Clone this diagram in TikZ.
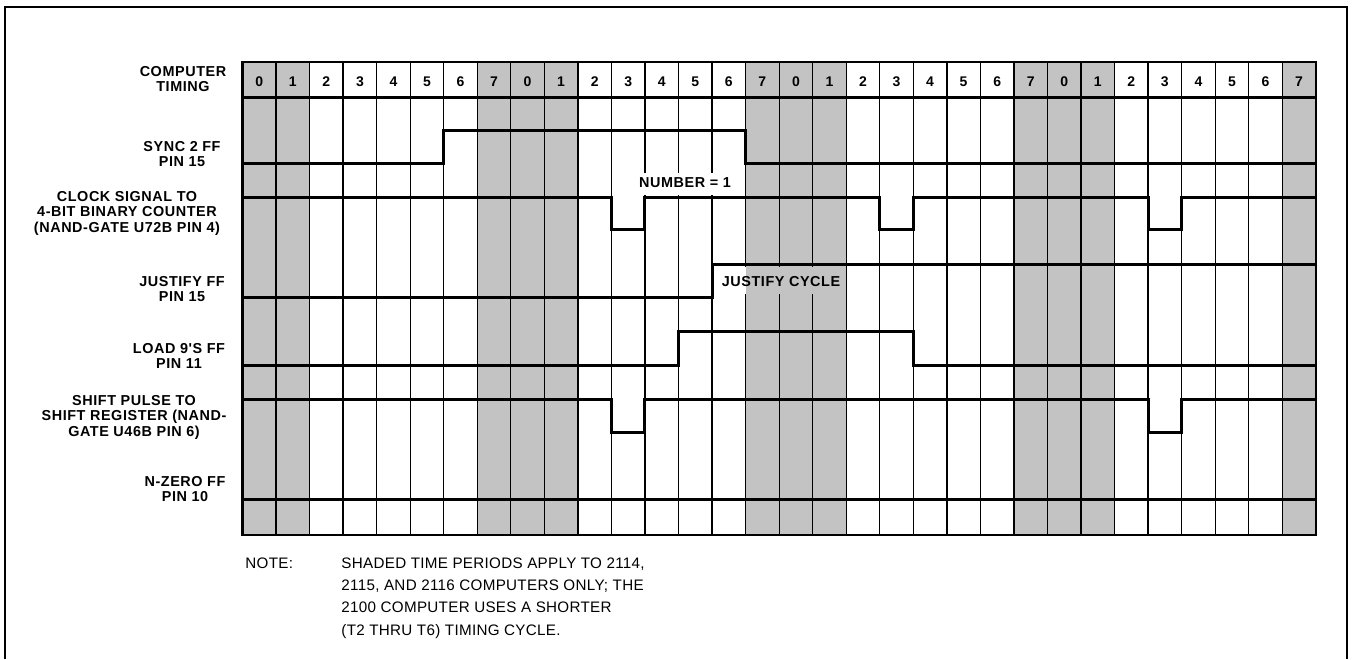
\documentclass[tikz,border=0pt]{standalone}
\usepackage{fontspec}
\setmainfont{Liberation Sans}
\newfontfamily\lblfont[LetterSpace=4]{Liberation Sans}
\newfontfamily\notefont[LetterSpace=2]{Liberation Sans}
\definecolor{shadegray}{RGB}{195,195,195}
\tikzset{
  gridline/.style={line width=0.65pt, black},
  gridborder/.style={line width=1.2pt, black},
  sig/.style={line width=1.5pt, black, line join=miter},
  frameline/.style={line width=1pt, black},
  lbl/.style={font=\lblfont\bfseries\fontsize{7.2}{7.75}\selectfont, align=center, inner sep=0pt},
  digit/.style={font=\lblfont\bfseries\fontsize{7}{7}\selectfont, inner sep=0pt},
  notetext/.style={font=\notefont\fontsize{7.6}{8}\selectfont, inner sep=0pt, anchor=base west},
}
\begin{document}
\begin{tikzpicture}[x=0.5pt,y=-0.5pt]
\useasboundingbox (0,0) rectangle (1352,659);
% outer frame (open at bottom)
\draw[frameline] (5,659) -- (5,7) -- (1347,7) -- (1347,659);
% shaded columns
\foreach \i in {0,...,31}{
  \pgfmathtruncatemacro{\d}{mod(\i,8)}
  \pgfmathtruncatemacro{\s}{(\d==7)||(\d<2)}
  \pgfmathsetmacro{\xl}{242.5+\i*33.54}
  \pgfmathsetmacro{\xr}{\xl+33.54}
  \ifnum\s=1 \fill[shadegray] (\xl,62) rectangle (\xr,535); \fi
}
% vertical grid lines and header digits
\foreach \i in {0,...,31}{
  \pgfmathtruncatemacro{\d}{mod(\i,8)}
  \pgfmathsetmacro{\xl}{242.5+\i*33.54}
  \pgfmathsetmacro{\xc}{\xl+16.77}
  \draw[gridline] (\xl,62) -- (\xl,535);
  \node[digit] (h\i) at (\xc,82) {\d};
}
\draw[gridborder] (242.5,62) rectangle (1315.7,535);
\draw[gridborder] (242.5,97.5) -- (1315.7,97.5);
% label backgrounds (interrupt grid lines)
\fill[white] (636,173) rectangle (734,195);
\fill[white] (714,267) rectangle ({242.5+33.54*15},294);
\fill[shadegray] ({242.5+33.54*15},267) rectangle (844,294);
% signals
\draw[sig] (242.5,163) -- ({242.5+33.54*6},163) -- ({242.5+33.54*6},130) -- ({242.5+33.54*15},130) -- ({242.5+33.54*15},163) -- (1315.7,163);
\draw[sig] (242.5,197) -- ({242.5+33.54*11},197) -- ({242.5+33.54*11},229) -- ({242.5+33.54*12},229) -- ({242.5+33.54*12},197)
  -- ({242.5+33.54*19},197) -- ({242.5+33.54*19},229) -- ({242.5+33.54*20},229) -- ({242.5+33.54*20},197)
  -- ({242.5+33.54*27},197) -- ({242.5+33.54*27},229) -- ({242.5+33.54*28},229) -- ({242.5+33.54*28},197) -- (1315.7,197);
\draw[sig] (242.5,297) -- ({242.5+33.54*14},297) -- ({242.5+33.54*14},264) -- (1315.7,264);
\draw[sig] (242.5,365) -- ({242.5+33.54*13},365) -- ({242.5+33.54*13},331) -- ({242.5+33.54*20},331) -- ({242.5+33.54*20},365) -- (1315.7,365);
\draw[sig] (242.5,399) -- ({242.5+33.54*11},399) -- ({242.5+33.54*11},432) -- ({242.5+33.54*12},432) -- ({242.5+33.54*12},399)
  -- ({242.5+33.54*27},399) -- ({242.5+33.54*27},432) -- ({242.5+33.54*28},432) -- ({242.5+33.54*28},399) -- (1315.7,399);
\draw[sig] (242.5,499) -- (1315.7,499);
% in-diagram labels
\node[lbl] (num) at (685,183) {NUMBER = 1};
\node[lbl] (jcyc) at (781,282) {JUSTIFY CYCLE};
% row labels
\node[lbl] (ltime) at (183,79) {COMPUTER\\TIMING};
\node[lbl] (lsync) at (182,154) {SYNC 2 FF\\PIN 15};
\node[lbl] (lclk) at (127,213) {CLOCK SIGNAL TO\\4-BIT BINARY COUNTER\\(NAND-GATE U72B PIN 4)};
\node[lbl] (ljust) at (182,289) {JUSTIFY FF\\PIN 15};
\node[lbl] (lload) at (179,356) {LOAD 9'S FF\\PIN 11};
\node[lbl] (lshift) at (134,417) {SHIFT PULSE TO\\SHIFT REGISTER (NAND-\\GATE U46B PIN 6)};
\node[lbl] (lnz) at (185,489) {N-ZERO FF\\PIN 10};
% note
\node[notetext] (note) at (245,568) {NOTE:};
\node[notetext] (n1) at (341,568) {SHADED TIME PERIODS APPLY TO 2114,};
\node[notetext] (n2) at (341,590) {2115, AND 2116 COMPUTERS ONLY; THE};
\node[notetext] (n3) at (341,612) {2100 COMPUTER USES A SHORTER};
\node[notetext] (n4) at (341,635) {(T2 THRU T6) TIMING CYCLE.};
\end{tikzpicture}
\end{document}
